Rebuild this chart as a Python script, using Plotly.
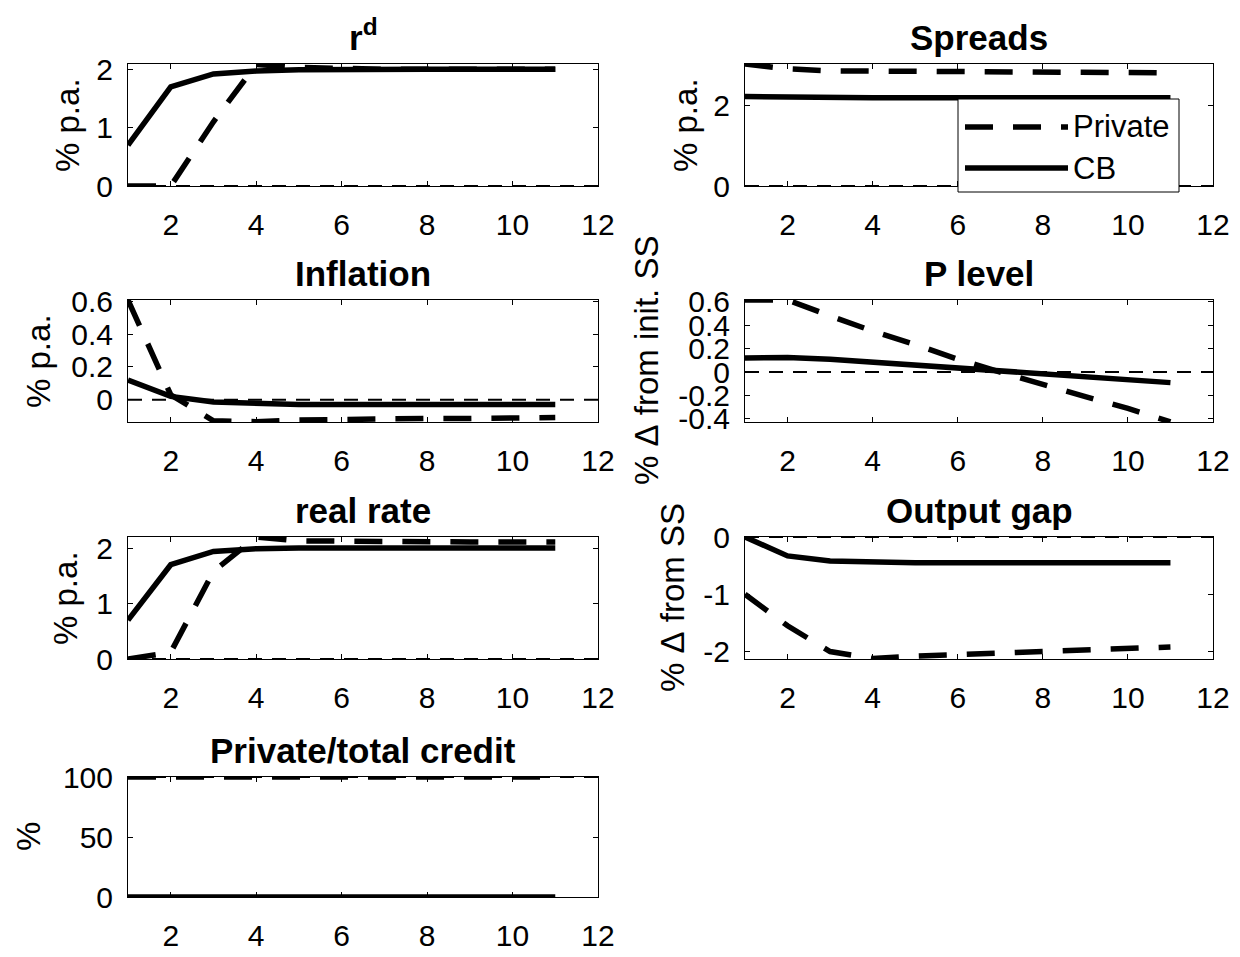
import plotly.graph_objects as go

# ---------------- data ----------------
periods = [1, 2, 3, 4, 5, 6, 7, 8, 9, 10, 11]

rd_private = [0.0, 0.0, 1.1, 2.08, 2.03, 2.01, 2.0, 2.0, 2.0, 2.0, 2.0]
rd_cb = [0.7, 1.7, 1.92, 1.97, 1.99, 2.0, 2.0, 2.0, 2.0, 2.0, 2.0]

spread_private = [3.04, 2.92, 2.87, 2.86, 2.85, 2.85, 2.84, 2.84, 2.83, 2.83, 2.82]
spread_cb = [2.23, 2.21, 2.2, 2.2, 2.2, 2.2, 2.2, 2.2, 2.2, 2.2, 2.2]

infl_private = [0.61, 0.03, -0.13, -0.135, -0.125, -0.12, -0.12, -0.115, -0.115, -0.11, -0.11]
infl_cb = [0.12, 0.02, -0.015, -0.025, -0.03, -0.03, -0.03, -0.03, -0.03, -0.03, -0.03]

plevel_private = [0.615, 0.615, 0.48, 0.35, 0.235, 0.11, 0.0, -0.11, -0.21, -0.31, -0.425]
plevel_cb = [0.12, 0.125, 0.11, 0.085, 0.065, 0.04, 0.015, -0.015, -0.04, -0.065, -0.09]

real_private = [0.0, 0.12, 1.58, 2.2, 2.13, 2.12, 2.12, 2.12, 2.11, 2.11, 2.11]
real_cb = [0.7, 1.7, 1.94, 1.99, 2.0, 2.0, 2.0, 2.0, 2.0, 2.0, 2.0]

gap_private = [-1.0, -1.55, -2.0, -2.12, -2.08, -2.05, -2.02, -1.99, -1.96, -1.94, -1.92]
gap_cb = [0.0, -0.33, -0.42, -0.44, -0.45, -0.45, -0.45, -0.45, -0.45, -0.45, -0.45]

credit_private = [100, 100, 100, 100, 100, 100, 100, 100, 100, 100, 100]
credit_cb = [0, 0, 0, 0, 0, 0, 0, 0, 0, 0, 0]

x_tickvals = [2, 4, 6, 8, 10, 12]
rd_ticks = [0, 1, 2]
spread_ticks = [0, 2]
infl_ticks = [0, 0.2, 0.4, 0.6]
infl_ticklabels = ["0", "0.2", "0.4", "0.6"]
plevel_ticks = [-0.4, -0.2, 0, 0.2, 0.4, 0.6]
plevel_ticklabels = ["-0.4", "-0.2", "0", "0.2", "0.4", "0.6"]
real_ticks = [0, 1, 2]
gap_ticks = [-2, -1, 0]
gap_ticklabels = ["-2", "-1", "0"]
credit_ticks = [0, 50, 100]

series_names = ["Private", "CB"]

# ---------------- layout geometry ----------------
W, H = 1240, 957
col_px = [(128, 598), (745, 1213)]
row_px = [(64, 186), (300, 422), (537, 659), (777, 897)]

NB = "\u00a0"
panels = [
    dict(title="<b>r<sup>d</sup></b>", ylabel="% p.a.", priv=rd_private, cb=rd_cb, ref=0,
         yr=[0, 2.09], tv=rd_ticks, tt=None, r=0, c=0, labx=67),
    dict(title="<b>Spreads</b>", ylabel="% p.a.", priv=spread_private, cb=spread_cb, ref=0,
         yr=[0, 3.04], tv=spread_ticks, tt=None, r=0, c=1, labx=685),
    dict(title="<b>Inflation</b>", ylabel="% p.a.", priv=infl_private, cb=infl_cb, ref=0,
         yr=[-0.137, 0.61], tv=infl_ticks, tt=infl_ticklabels, r=1, c=0, labx=38),
    dict(title="<b>P level</b>", ylabel="%" + NB + "\u0394" + NB + "from" + NB + "init." + NB + "SS",
         priv=plevel_private, cb=plevel_cb, ref=0,
         yr=[-0.426, 0.615], tv=plevel_ticks, tt=plevel_ticklabels, r=1, c=1, labx=646),
    dict(title="<b>real rate</b>", ylabel="% p.a.", priv=real_private, cb=real_cb, ref=0,
         yr=[0, 2.2], tv=real_ticks, tt=None, r=2, c=0, labx=65),
    dict(title="<b>Output gap</b>", ylabel="%" + NB + "\u0394" + NB + "from" + NB + "SS",
         priv=gap_private, cb=gap_cb, ref=0,
         yr=[-2.13, 0], tv=gap_ticks, tt=gap_ticklabels, r=2, c=1, labx=672),
    dict(title="<b>Private/total credit</b>", ylabel="%", priv=credit_private, cb=credit_cb, ref=100,
         yr=[0, 100], tv=credit_ticks, tt=None, r=3, c=0, labx=28),
]

FONT = "Liberation Sans, Arial, Helvetica, sans-serif"
THICK = 5.5
DASH = "28px,20px"
fig = go.Figure()
layout = dict(
    width=W, height=H,
    margin=dict(l=0, r=0, t=0, b=0, pad=0, autoexpand=False),
    paper_bgcolor="white", plot_bgcolor="white",
    font=dict(family=FONT, size=30, color="black"),
    showlegend=False,
)
annotations = []
shapes = []

for i, p in enumerate(panels, start=1):
    sfx = "" if i == 1 else str(i)
    xa, ya = "x" + sfx, "y" + sfx
    x0, x1 = col_px[p["c"]]
    yt, yb = row_px[p["r"]]
    common = dict(
        showline=True, linecolor="black", linewidth=1, mirror="allticks",
        ticks="inside", ticklen=5, tickwidth=1, tickcolor="black",
        showgrid=False, zeroline=False, automargin=False,
        tickfont=dict(family=FONT, size=30, color="black"),
    )
    layout["xaxis" + sfx] = dict(
        domain=[x0 / W, x1 / W], range=[1, 12], anchor=ya,
        tickmode="array", tickvals=x_tickvals, ticklabelstandoff=12, **common)
    yax = dict(domain=[1 - yb / H, 1 - yt / H], range=p["yr"], anchor=xa,
               tickmode="array", tickvals=p["tv"], ticklabelstandoff=8, **common)
    if p["tt"] is not None:
        yax["ticktext"] = p["tt"]
    layout["yaxis" + sfx] = yax

    # reference (steady-state) line across the panel
    shapes.append(dict(type="line", xref=xa + " domain", x0=0, x1=1, yref=ya,
                       y0=p["ref"], y1=p["ref"],
                       line=dict(color="black", width=2, dash="14px,10px"), layer="above"))

    fig.add_trace(go.Scatter(
        x=periods, y=p["cb"], mode="lines", name=series_names[1],
        line=dict(color="black", width=THICK), xaxis=xa, yaxis=ya, hoverinfo="skip"))
    fig.add_trace(go.Scatter(
        x=periods, y=p["priv"], mode="lines", name=series_names[0],
        line=dict(color="black", width=THICK, dash=DASH), xaxis=xa, yaxis=ya, hoverinfo="skip"))

    annotations.append(dict(
        text=p["title"], xref=xa + " domain", yref=ya + " domain", x=0.5, y=1,
        xanchor="center", yanchor="bottom", yshift=5, showarrow=False,
        font=dict(family=FONT, size=35, color="black")))
    annotations.append(dict(
        text=p["ylabel"], xref="paper", yref=ya + " domain", x=p["labx"] / W, y=0.5,
        xanchor="center", yanchor="middle", textangle=-90, showarrow=False,
        font=dict(family=FONT, size=33, color="black")))

# ---------------- legend box (inside the Spreads panel) ----------------
lg_left, lg_right, lg_top, lg_bottom = 958, 1179, 99, 192
lg_rows = [127, 168]
lg_line = (965, 1068)
shapes.append(dict(type="rect", xref="paper", yref="paper",
                   x0=lg_left / W, x1=lg_right / W, y0=1 - lg_bottom / H, y1=1 - lg_top / H,
                   fillcolor="white", line=dict(color="black", width=1), layer="above"))
legend_dash = [DASH, "solid"]
for name, yrow, dsh in zip(series_names, lg_rows, legend_dash):
    shapes.append(dict(type="line", xref="paper", yref="paper",
                       x0=lg_line[0] / W, x1=lg_line[1] / W, y0=1 - yrow / H, y1=1 - yrow / H,
                       line=dict(color="black", width=THICK, dash=dsh), layer="above"))
    annotations.append(dict(
        text=name, xref="paper", yref="paper", x=1071 / W, y=1 - yrow / H,
        xanchor="left", yanchor="middle", showarrow=False,
        font=dict(family=FONT, size=31, color="black")))

layout["annotations"] = annotations
layout["shapes"] = shapes
fig.update_layout(**layout)
fig.write_html("out.html")
